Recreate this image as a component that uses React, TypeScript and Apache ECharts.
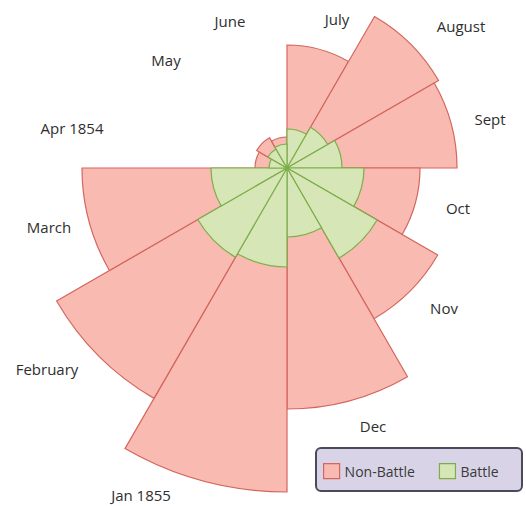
import React, { useEffect, useRef } from "react";
import * as echarts from "echarts";

// Months, clockwise from 12 o'clock
const months = [
  "July", "August", "Sept", "Oct", "Nov", "Dec",
  "Jan 1855", "February", "March", "Apr 1854", "May", "June",
];
// Wedge radii (arbitrary units)
const nonBattle = [123, 175, 170, 133, 174, 241, 324, 266, 205, 32, 35, 31];
const battle = [39, 47, 55, 77, 104, 69, 99, 103, 76, 18, 22, 24];
const seriesNames = ["Non-Battle", "Battle"];

// Layout of the month labels (pixel positions of label centres)
const LABEL_XY: [number, number][] = [
  [337, 19], [461, 26], [490, 119], [458, 208], [444, 308], [373, 426],
  [141, 495], [47, 369], [49, 227], [72, 128], [166, 60], [230, 21],
];

const PINK = "#F9BBB1";
const PINK_EDGE = "#D4665E";
const GREEN = "#D6E6B6";
const GREEN_EDGE = "#7DAE4B";
const FONT = "'Open Sans', 'Liberation Sans', sans-serif";

export default function App() {
  const ref = useRef<HTMLDivElement>(null);
  useEffect(() => {
    if (!ref.current) return;
    const chart = echarts.init(ref.current, undefined, { renderer: "svg" });
    const option: any = {
      animation: false,
      backgroundColor: "#ffffff",
      polar: { center: [287, 168], radius: 330 },
      angleAxis: {
        type: "category",
        data: months,
        startAngle: 90,
        clockwise: true,
        axisLine: { show: false },
        axisTick: { show: false },
        axisLabel: { show: false },
        splitLine: { show: false },
      },
      radiusAxis: {
        type: "value",
        min: 0,
        max: 330,
        axisLine: { show: false },
        axisTick: { show: false },
        axisLabel: { show: false },
        splitLine: { show: false },
      },
      legend: {
        left: 323,
        top: 463,
        padding: 0,
        itemWidth: 16,
        itemHeight: 15,
        itemGap: 24,
        z: 10,
        icon: "rect",
        textStyle: { fontFamily: FONT, fontSize: 14, color: "#3a3a3a" },
        data: [
          { name: seriesNames[0], itemStyle: { color: PINK, borderColor: PINK_EDGE, borderWidth: 1.2 } },
          { name: seriesNames[1], itemStyle: { color: GREEN, borderColor: GREEN_EDGE, borderWidth: 1.2 } },
        ],
      },
      graphic: [
        {
          type: "rect",
          z: 0,
          shape: { x: 316, y: 448, width: 206, height: 43, r: 5 },
          style: { fill: "#D9D3E7", stroke: "#4B4A5A", lineWidth: 2 },
        },
        ...months.map((m, i) => ({
          type: "text",
          x: LABEL_XY[i][0],
          y: LABEL_XY[i][1],
          style: {
            text: m,
            fill: "#2e2e2e",
            font: `15px ${FONT}`,
            align: "center",
            verticalAlign: "middle",
          },
        })),
      ],
      series: [
        {
          name: seriesNames[0],
          type: "bar",
          coordinateSystem: "polar",
          data: nonBattle,
          barCategoryGap: "0%",
          barGap: "-100%",
          itemStyle: { color: PINK, borderColor: PINK_EDGE, borderWidth: 1.2 },
        },
        {
          name: seriesNames[1],
          type: "bar",
          coordinateSystem: "polar",
          data: battle,
          barCategoryGap: "0%",
          barGap: "-100%",
          itemStyle: { color: GREEN, borderColor: GREEN_EDGE, borderWidth: 1.2 },
        },
      ],
    };
    chart.setOption(option);
    return () => chart.dispose();
  }, []);
  return (
    <div
      ref={ref}
      style={{ position: "fixed", left: 0, top: 0, width: 526, height: 506, background: "#fff" }}
    />
  );
}
